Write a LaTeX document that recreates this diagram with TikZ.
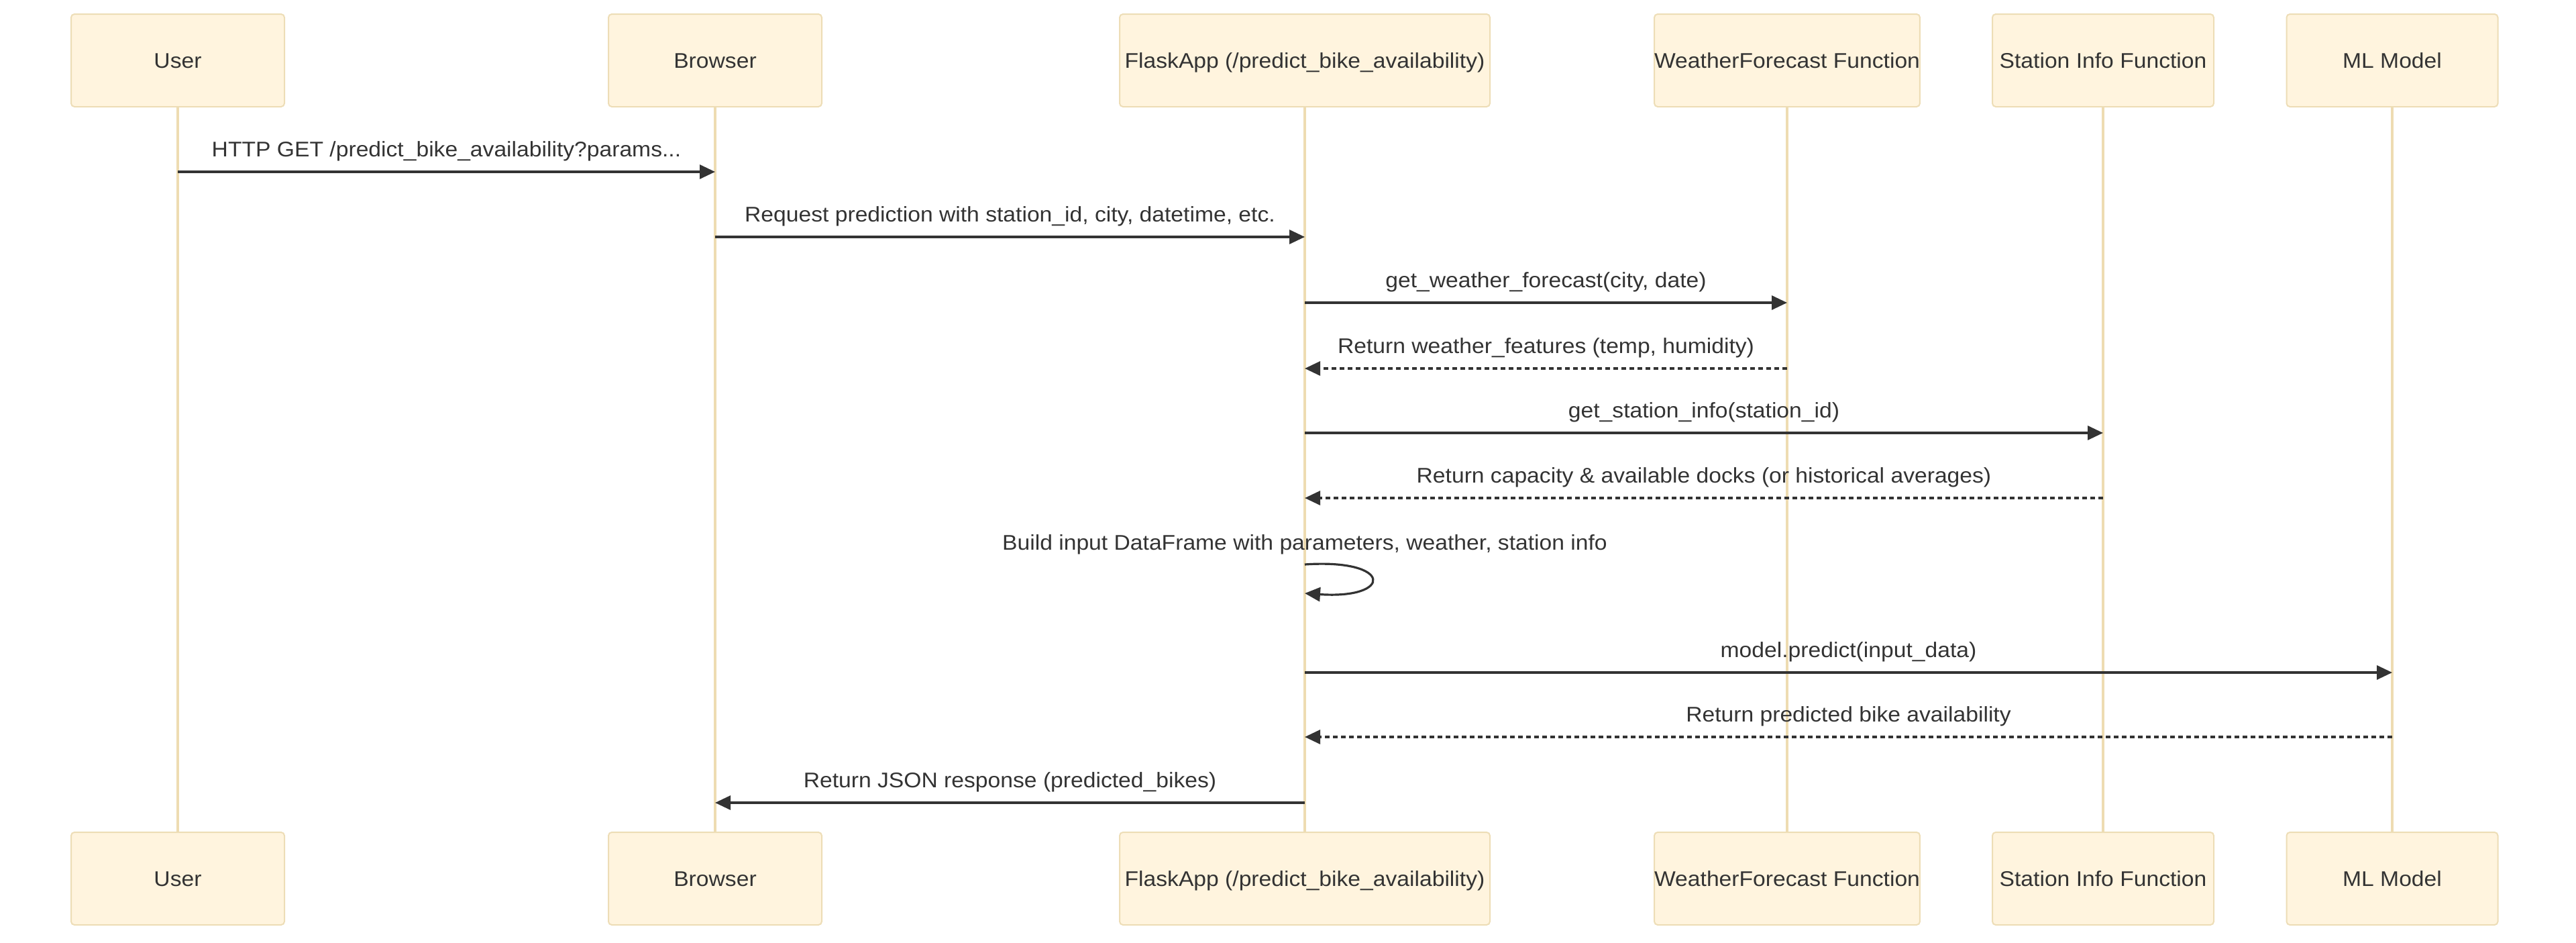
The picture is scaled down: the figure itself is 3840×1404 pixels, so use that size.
\documentclass[tikz,border=0pt]{standalone}
\usepackage{fontspec}
\setmainfont{Liberation Sans}[FakeStretch=1.065]
\usetikzlibrary{arrows.meta}
\definecolor{actorfill}{HTML}{FFF4DE}
\definecolor{actorline}{HTML}{EDDDB6}
\definecolor{lifeline}{HTML}{EEDCB2}
\definecolor{ink}{HTML}{333333}
\begin{document}
\begin{tikzpicture}[x=0.5pt,y=-0.5pt,
  actor/.style={draw=actorline, line width=1pt, fill=actorfill, rounded corners=2.5pt,
    minimum height=69pt, inner sep=0pt, font=\fontsize{15.8}{18}\selectfont, text=ink,
    text height=11.3pt, text depth=0pt},
  life/.style={draw=lifeline, line width=1.8pt},
  msg/.style={draw=ink, line width=1.6pt, -{Triangle[length=11.5pt,width=10.5pt]}},
  reply/.style={msg, dash pattern=on 3.5pt off 2.5pt},
  lbl/.style={anchor=base, inner sep=0pt, font=\fontsize{15.8}{18}\selectfont, text=ink}]
\useasboundingbox (0,0) rectangle (3840,1404);

% participants, top row
\node[actor, minimum width=159pt] (u) at (265,90) {User};
\node[actor, minimum width=159pt] (b) at (1066,90) {Browser};
\node[actor, minimum width=276pt] (f) at (1945,90) {FlaskApp (/predict\_bike\_availability)};
\node[actor, minimum width=197.5pt] (w) at (2664,90) {WeatherForecast Function};
\node[actor, minimum width=165pt] (s) at (3135,90) {Station Info Function};
\node[actor, minimum width=157.5pt] (m) at (3566,90) {ML Model};

% participants, bottom row
\node[actor, minimum width=159pt] (u2) at (265,1309) {User};
\node[actor, minimum width=159pt] (b2) at (1066,1309) {Browser};
\node[actor, minimum width=276pt] (f2) at (1945,1309) {FlaskApp (/predict\_bike\_availability)};
\node[actor, minimum width=197.5pt] (w2) at (2664,1309) {WeatherForecast Function};
\node[actor, minimum width=165pt] (s2) at (3135,1309) {Station Info Function};
\node[actor, minimum width=157.5pt] (m2) at (3566,1309) {ML Model};

% lifelines
\foreach \a/\z in {u/u2,b/b2,f/f2,w/w2,s/s2,m/m2}
  \draw[life] (\a.south) -- (\z.north);

% messages
\draw[msg] (u |- 0,256) -- (b |- 0,256);
\path (u |- 0,233) -- (b |- 0,233) node[midway,lbl] {HTTP GET /predict\_bike\_availability?params...};

\draw[msg] (b |- 0,353) -- (f |- 0,353);
\path (b |- 0,330) -- (f |- 0,330) node[midway,lbl] {Request prediction with station\_id, city, datetime, etc.};

\draw[msg] (f |- 0,451) -- (w |- 0,451);
\path (f |- 0,428) -- (w |- 0,428) node[midway,lbl] {get\_weather\_forecast(city, date)};

\draw[reply] (w |- 0,549) -- (f |- 0,549);
\path (w |- 0,526) -- (f |- 0,526) node[midway,lbl] {Return weather\_features (temp, humidity)};

\draw[msg] (f |- 0,645) -- (s |- 0,645);
\path (f |- 0,622) -- (s |- 0,622) node[midway,lbl] {get\_station\_info(station\_id)};

\draw[reply] (s |- 0,742) -- (f |- 0,742);
\path (s |- 0,719) -- (f |- 0,719) node[midway,lbl] {Return capacity \& available docks (or historical averages)};

% self call on the Flask app
\node[lbl] (selflbl) at (1945,819) {Build input DataFrame with parameters, weather, station info};
\draw[msg] (f |- 0,841) .. controls (2077,832) and (2077,893) .. (f |- 0,884);

\draw[msg] (f |- 0,1002) -- (m |- 0,1002);
\path (f |- 0,979) -- (m |- 0,979) node[midway,lbl] {model.predict(input\_data)};

\draw[reply] (m |- 0,1098) -- (f |- 0,1098);
\path (m |- 0,1075) -- (f |- 0,1075) node[midway,lbl] {Return predicted bike availability};

\draw[msg] (f |- 0,1196) -- (b |- 0,1196);
\path (f |- 0,1173) -- (b |- 0,1173) node[midway,lbl] {Return JSON response (predicted\_bikes)};
\end{tikzpicture}
\end{document}
